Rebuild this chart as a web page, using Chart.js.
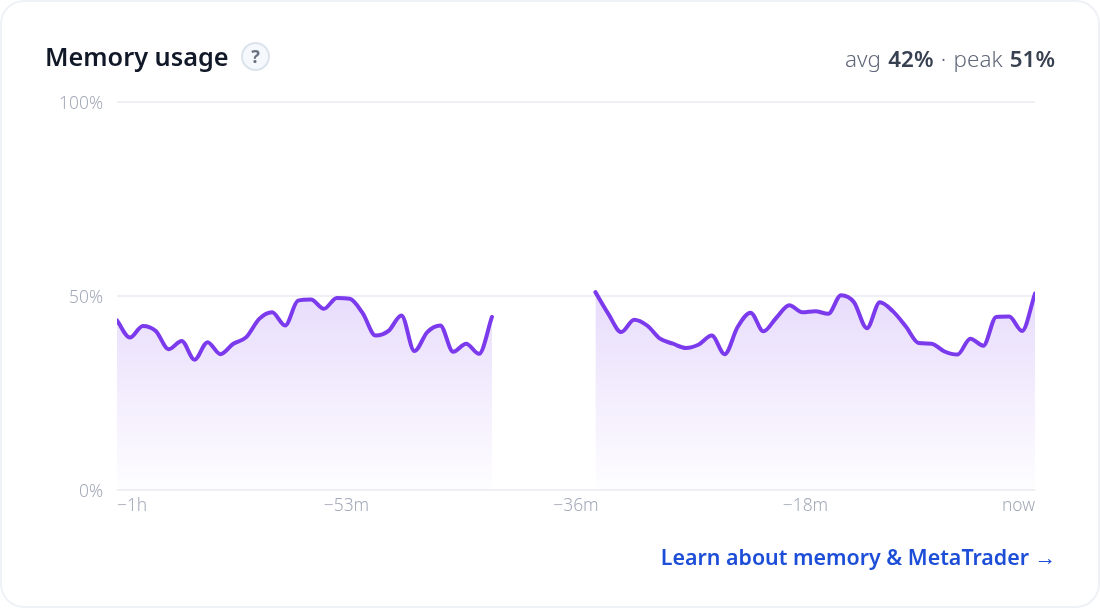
<!DOCTYPE html>
<html><head><meta charset="utf-8">
<script src="https://cdn.jsdelivr.net/npm/chart.js@4"></script>
<style>
html,body{margin:0;padding:0;background:#fff;width:1100px;height:608px;overflow:hidden;font-family:"Noto Sans",sans-serif}
#card{position:absolute;left:0;top:0;width:1100px;height:608px;box-sizing:border-box;border:2px solid #eef1f6;border-radius:24px;background:#fff}
canvas{position:absolute;left:0;top:0}
.t{position:absolute;white-space:nowrap}
#title{left:45px;top:38px;font-size:25.3px;line-height:36px;font-weight:600;color:#111827}
#q{position:absolute;left:241px;top:42px;width:29px;height:29px;box-sizing:border-box;border:2.5px solid #dde3ec;border-radius:50%;background:#f5f8fc;color:#6b7280;font-size:18px;font-weight:700;text-align:center;line-height:24px}
#stats{right:45px;top:44px;font-size:22.4px;line-height:30px;font-weight:300;word-spacing:1.5px;color:#5f6878}
#stats b{font-weight:600;color:#374151}
#link{right:44px;top:542px;font-size:21.4px;line-height:30px;font-weight:600;color:#1d4ed8}
</style></head><body>
<div id="card"></div>
<canvas id="c" width="1100" height="608"></canvas>
<div class="t" id="title">Memory usage</div><div id="q">?</div>
<div class="t" id="stats">avg <b>42%</b> · peak <b>51%</b></div>
<div class="t" id="link">Learn about memory &amp; MetaTrader →</div>
<script>
const memoryValues = [43.7,39.3,42.3,41.0,36.3,38.4,33.6,38.1,35.0,37.7,39.4,44.1,45.8,42.4,48.8,49.1,46.7,49.5,49.3,45.6,39.8,41.0,45.0,35.8,40.7,42.4,35.6,37.7,35.1,44.6,
 null,null,null,null,null,null,null,
 51.0,45.4,40.7,43.9,42.4,39.0,37.7,36.6,37.5,39.8,35.0,42.0,45.7,40.9,44.4,47.6,45.8,46.1,45.4,50.2,48.4,41.7,48.4,46.1,42.2,37.9,37.7,35.7,34.9,39.0,37.2,44.6,44.7,41.0,50.6];
const xTickLabels = ["−1h","−53m","−36m","−18m","now"];
const yTickValues = [0,50,100];
const pointIndex = memoryValues.map((_, i) => i);
const lastIndex = memoryValues.length - 1;

new Chart(document.getElementById('c'), {
  type: 'line',
  data: { datasets: [{
    data: pointIndex.map(i => ({x: i, y: memoryValues[i]})),
    borderColor: '#7c3aed', borderWidth: 4, cubicInterpolationMode: 'monotone', pointRadius: 0, spanGaps: false,
    fill: 'origin', borderCapStyle: 'round', borderJoinStyle: 'round',
    backgroundColor(ctx) {
      const a = ctx.chart.chartArea;
      if (!a) return 'transparent';
      const g = ctx.chart.ctx.createLinearGradient(0, 290, 0, a.bottom + 10);
      g.addColorStop(0, 'rgba(124,58,237,0.18)');
      g.addColorStop(1, 'rgba(124,58,237,0)');
      return g;
    }
  }]},
  options: {
    responsive: false, animation: false, devicePixelRatio: 1,
    layout: { padding: { left: 0, right: 65, top: 102, bottom: 90 } },
    plugins: { legend: {display: false}, tooltip: {enabled: false} },
    scales: {
      x: {
        type: 'linear', min: 0, max: lastIndex,
        grid: {display: false}, border: {display: false},
        afterFit(s) { s.height = 28; },
        afterBuildTicks(s) { s.ticks = xTickLabels.map((_, i) => ({value: lastIndex * i / (xTickLabels.length - 1)})); },
        afterTickToLabelConversion(s) { s.ticks.forEach((t, i) => { t.label = xTickLabels[i]; }); },
        ticks: { align: 'inner', maxRotation: 0, autoSkip: false, padding: -2, color: '#a3a9b8', font: {family: '"Noto Sans"', size: 17.4, weight: 300} }
      },
      y: {
        min: 0, max: 100,
        grid: { color: '#eff0f5', lineWidth: 2, drawTicks: false }, border: {display: false},
        afterFit(s) { s.width = 117; },
        afterBuildTicks(s) { s.ticks = yTickValues.map(v => ({value: v})); },
        ticks: { padding: 14, labelOffset: 2, color: '#a3a9b8', font: {family: '"Noto Sans"', size: 17.4, weight: 300}, callback: v => v + '%' }
      }
    }
  }
});
</script>
</body></html>
